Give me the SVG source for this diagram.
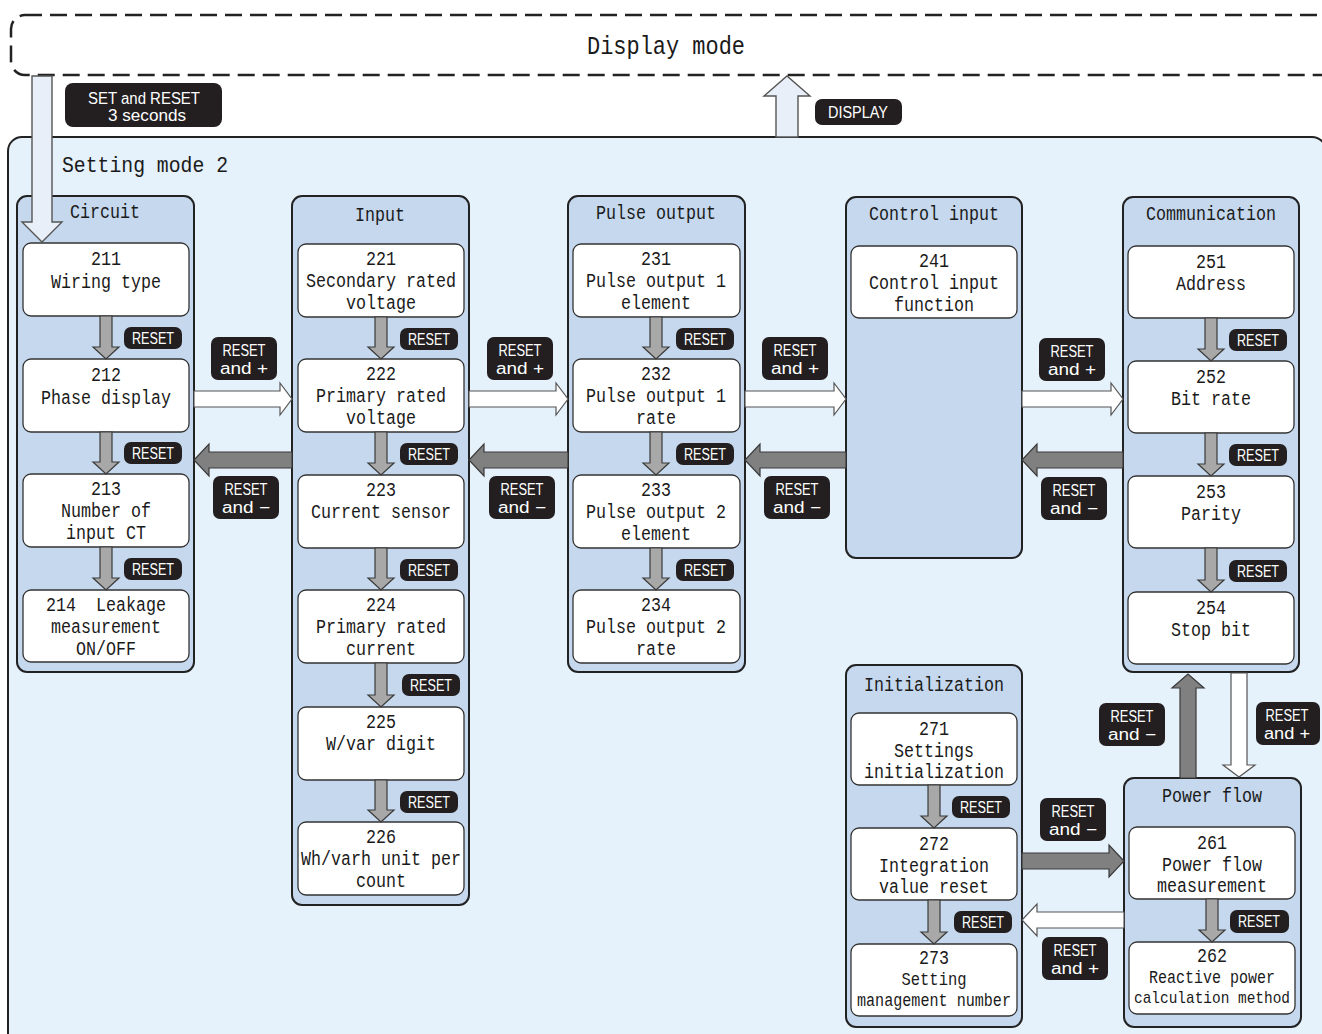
<svg xmlns="http://www.w3.org/2000/svg" width="1322" height="1034" viewBox="0 0 1322 1034">
  <defs>
    <style>
      .mode { fill: #ffffff; stroke: #222; stroke-width: 2.5; stroke-dasharray: 17 8; }
      .area { fill: #e5f1fb; stroke: #222; stroke-width: 2; }
      .grp { fill: #c5d8ed; stroke: #222; stroke-width: 2; }
      .node { fill: #ffffff; stroke: #333; stroke-width: 1.3; }
      .t { font-family: "Liberation Mono", "DejaVu Sans Mono", monospace; font-size: 20px; fill: #1a1a1a; text-anchor: middle; }
      .s { font-size: 18px; }
      .xs { font-size: 17px; }
      .big { font-family: "Liberation Mono", "DejaVu Sans Mono", monospace; fill: #1a1a1a; }
      .lbl { fill: #231f20; }
      .lt { font-family: "Liberation Sans", Arial, sans-serif; font-size: 16px; fill: #ffffff; text-anchor: middle; }
      .step { fill: #a8a8a8; stroke: #3a3a3a; stroke-width: 1.2; stroke-linejoin: miter; }
      .back { fill: #808080; stroke: #3a3a3a; stroke-width: 1.2; }
      .fwd { fill: #ffffff; stroke: #555; stroke-width: 1.2; }
      .entry { fill: #e8eff8; stroke: #555; stroke-width: 1.4; }
    </style>
  </defs>

  <!-- Display mode frame -->
  <g id="display-mode">
    <rect class="mode" x="11" y="15" width="1330" height="60" rx="14"/>
    <text class="big" x="666" y="54" font-size="26" text-anchor="middle" textLength="158" lengthAdjust="spacingAndGlyphs">Display mode</text>
  </g>

  <!-- Setting mode 2 frame -->
  <g id="setting-mode-2">
    <rect class="area" x="8" y="137" width="1318" height="940" rx="14"/>
    <text class="big" x="62" y="172" font-size="22" textLength="166" lengthAdjust="spacingAndGlyphs">Setting mode 2</text>
  </g>

  <!-- Circuit -->
  <g id="circuit">
    <rect class="grp" x="17" y="196" width="177" height="476" rx="10"/>
    <text class="t" x="105" y="218" textLength="70" lengthAdjust="spacingAndGlyphs">Circuit</text>
    <g id="n211">
      <rect class="node" x="23" y="243" width="166" height="73" rx="8"/>
      <text class="t" x="106" y="265" textLength="30" lengthAdjust="spacingAndGlyphs">211</text>
      <text class="t" x="106" y="288" textLength="110" lengthAdjust="spacingAndGlyphs">Wiring type</text>
    </g>
    <g id="n212">
      <rect class="node" x="23" y="359" width="166" height="73" rx="8"/>
      <text class="t" x="106" y="381" textLength="30" lengthAdjust="spacingAndGlyphs">212</text>
      <text class="t" x="106" y="404" textLength="130" lengthAdjust="spacingAndGlyphs">Phase display</text>
    </g>
    <g id="n213">
      <rect class="node" x="23" y="474" width="166" height="73" rx="8"/>
      <text class="t" x="106" y="495" textLength="30" lengthAdjust="spacingAndGlyphs">213</text>
      <text class="t" x="106" y="517" textLength="90" lengthAdjust="spacingAndGlyphs">Number of</text>
      <text class="t" x="106" y="539" textLength="80" lengthAdjust="spacingAndGlyphs">input CT</text>
    </g>
    <g id="n214">
      <rect class="node" x="23" y="590" width="166" height="72" rx="8"/>
      <text class="t" x="106" y="611" textLength="120" lengthAdjust="spacingAndGlyphs">214&#160; Leakage</text>
      <text class="t" x="106" y="633" textLength="110" lengthAdjust="spacingAndGlyphs">measurement</text>
      <text class="t" x="106" y="655" textLength="60" lengthAdjust="spacingAndGlyphs">ON/OFF</text>
    </g>
  </g>

  <!-- Input -->
  <g id="input">
    <rect class="grp" x="292" y="196" width="177" height="709" rx="10"/>
    <text class="t" x="380" y="221" textLength="50" lengthAdjust="spacingAndGlyphs">Input</text>
    <g id="n221">
      <rect class="node" x="298" y="244" width="166" height="73" rx="8"/>
      <text class="t" x="381" y="265" textLength="30" lengthAdjust="spacingAndGlyphs">221</text>
      <text class="t" x="381" y="287" textLength="150" lengthAdjust="spacingAndGlyphs">Secondary rated</text>
      <text class="t" x="381" y="309" textLength="70" lengthAdjust="spacingAndGlyphs">voltage</text>
    </g>
    <g id="n222">
      <rect class="node" x="298" y="359" width="166" height="73" rx="8"/>
      <text class="t" x="381" y="380" textLength="30" lengthAdjust="spacingAndGlyphs">222</text>
      <text class="t" x="381" y="402" textLength="130" lengthAdjust="spacingAndGlyphs">Primary rated</text>
      <text class="t" x="381" y="424" textLength="70" lengthAdjust="spacingAndGlyphs">voltage</text>
    </g>
    <g id="n223">
      <rect class="node" x="298" y="475" width="166" height="73" rx="8"/>
      <text class="t" x="381" y="496" textLength="30" lengthAdjust="spacingAndGlyphs">223</text>
      <text class="t" x="381" y="518" textLength="140" lengthAdjust="spacingAndGlyphs">Current sensor</text>
    </g>
    <g id="n224">
      <rect class="node" x="298" y="590" width="166" height="73" rx="8"/>
      <text class="t" x="381" y="611" textLength="30" lengthAdjust="spacingAndGlyphs">224</text>
      <text class="t" x="381" y="633" textLength="130" lengthAdjust="spacingAndGlyphs">Primary rated</text>
      <text class="t" x="381" y="655" textLength="70" lengthAdjust="spacingAndGlyphs">current</text>
    </g>
    <g id="n225">
      <rect class="node" x="298" y="707" width="166" height="73" rx="8"/>
      <text class="t" x="381" y="728" textLength="30" lengthAdjust="spacingAndGlyphs">225</text>
      <text class="t" x="381" y="750" textLength="110" lengthAdjust="spacingAndGlyphs">W/var digit</text>
    </g>
    <g id="n226">
      <rect class="node" x="298" y="822" width="166" height="73" rx="8"/>
      <text class="t" x="381" y="843" textLength="30" lengthAdjust="spacingAndGlyphs">226</text>
      <text class="t" x="381" y="865" textLength="160" lengthAdjust="spacingAndGlyphs">Wh/varh unit per</text>
      <text class="t" x="381" y="887" textLength="50" lengthAdjust="spacingAndGlyphs">count</text>
    </g>
  </g>

  <!-- Pulse output -->
  <g id="pulse-output">
    <rect class="grp" x="568" y="196" width="177" height="476" rx="10"/>
    <text class="t" x="656" y="219" textLength="120" lengthAdjust="spacingAndGlyphs">Pulse output</text>
    <g id="n231">
      <rect class="node" x="573" y="244" width="167" height="73" rx="8"/>
      <text class="t" x="656" y="265" textLength="30" lengthAdjust="spacingAndGlyphs">231</text>
      <text class="t" x="656" y="287" textLength="140" lengthAdjust="spacingAndGlyphs">Pulse output 1</text>
      <text class="t" x="656" y="309" textLength="70" lengthAdjust="spacingAndGlyphs">element</text>
    </g>
    <g id="n232">
      <rect class="node" x="573" y="359" width="167" height="73" rx="8"/>
      <text class="t" x="656" y="380" textLength="30" lengthAdjust="spacingAndGlyphs">232</text>
      <text class="t" x="656" y="402" textLength="140" lengthAdjust="spacingAndGlyphs">Pulse output 1</text>
      <text class="t" x="656" y="424" textLength="40" lengthAdjust="spacingAndGlyphs">rate</text>
    </g>
    <g id="n233">
      <rect class="node" x="573" y="475" width="167" height="73" rx="8"/>
      <text class="t" x="656" y="496" textLength="30" lengthAdjust="spacingAndGlyphs">233</text>
      <text class="t" x="656" y="518" textLength="140" lengthAdjust="spacingAndGlyphs">Pulse output 2</text>
      <text class="t" x="656" y="540" textLength="70" lengthAdjust="spacingAndGlyphs">element</text>
    </g>
    <g id="n234">
      <rect class="node" x="573" y="590" width="167" height="73" rx="8"/>
      <text class="t" x="656" y="611" textLength="30" lengthAdjust="spacingAndGlyphs">234</text>
      <text class="t" x="656" y="633" textLength="140" lengthAdjust="spacingAndGlyphs">Pulse output 2</text>
      <text class="t" x="656" y="655" textLength="40" lengthAdjust="spacingAndGlyphs">rate</text>
    </g>
  </g>

  <!-- Control input -->
  <g id="control-input">
    <rect class="grp" x="846" y="197" width="176" height="361" rx="10"/>
    <text class="t" x="934" y="220" textLength="130" lengthAdjust="spacingAndGlyphs">Control input</text>
    <g id="n241">
      <rect class="node" x="851" y="246" width="166" height="72" rx="8"/>
      <text class="t" x="934" y="267" textLength="30" lengthAdjust="spacingAndGlyphs">241</text>
      <text class="t" x="934" y="289" textLength="130" lengthAdjust="spacingAndGlyphs">Control input</text>
      <text class="t" x="934" y="311" textLength="80" lengthAdjust="spacingAndGlyphs">function</text>
    </g>
  </g>

  <!-- Communication -->
  <g id="communication">
    <rect class="grp" x="1123" y="197" width="176" height="475" rx="10"/>
    <text class="t" x="1211" y="220" textLength="130" lengthAdjust="spacingAndGlyphs">Communication</text>
    <g id="n251">
      <rect class="node" x="1128" y="246" width="166" height="72" rx="8"/>
      <text class="t" x="1211" y="268" textLength="30" lengthAdjust="spacingAndGlyphs">251</text>
      <text class="t" x="1211" y="290" textLength="70" lengthAdjust="spacingAndGlyphs">Address</text>
    </g>
    <g id="n252">
      <rect class="node" x="1128" y="361" width="166" height="72" rx="8"/>
      <text class="t" x="1211" y="383" textLength="30" lengthAdjust="spacingAndGlyphs">252</text>
      <text class="t" x="1211" y="405" textLength="80" lengthAdjust="spacingAndGlyphs">Bit rate</text>
    </g>
    <g id="n253">
      <rect class="node" x="1128" y="476" width="166" height="72" rx="8"/>
      <text class="t" x="1211" y="498" textLength="30" lengthAdjust="spacingAndGlyphs">253</text>
      <text class="t" x="1211" y="520" textLength="60" lengthAdjust="spacingAndGlyphs">Parity</text>
    </g>
    <g id="n254">
      <rect class="node" x="1128" y="592" width="166" height="72" rx="8"/>
      <text class="t" x="1211" y="614" textLength="30" lengthAdjust="spacingAndGlyphs">254</text>
      <text class="t" x="1211" y="636" textLength="80" lengthAdjust="spacingAndGlyphs">Stop bit</text>
    </g>
  </g>

  <!-- Initialization -->
  <g id="initialization">
    <rect class="grp" x="846" y="665" width="176" height="362" rx="10"/>
    <text class="t" x="934" y="691" textLength="140" lengthAdjust="spacingAndGlyphs">Initialization</text>
    <g id="n271">
      <rect class="node" x="851" y="713" width="166" height="72" rx="8"/>
      <text class="t" x="934" y="735" textLength="30" lengthAdjust="spacingAndGlyphs">271</text>
      <text class="t" x="934" y="757" textLength="80" lengthAdjust="spacingAndGlyphs">Settings</text>
      <text class="t" x="934" y="778" textLength="140" lengthAdjust="spacingAndGlyphs">initialization</text>
    </g>
    <g id="n272">
      <rect class="node" x="851" y="828" width="166" height="72" rx="8"/>
      <text class="t" x="934" y="850" textLength="30" lengthAdjust="spacingAndGlyphs">272</text>
      <text class="t" x="934" y="872" textLength="110" lengthAdjust="spacingAndGlyphs">Integration</text>
      <text class="t" x="934" y="893" textLength="110" lengthAdjust="spacingAndGlyphs">value reset</text>
    </g>
    <g id="n273">
      <rect class="node" x="851" y="944" width="166" height="72" rx="8"/>
      <text class="t" x="934" y="964" textLength="30" lengthAdjust="spacingAndGlyphs">273</text>
      <text class="t s" x="934" y="985" textLength="65" lengthAdjust="spacingAndGlyphs">Setting</text>
      <text class="t s" x="934" y="1006" textLength="154" lengthAdjust="spacingAndGlyphs">management number</text>
    </g>
  </g>

  <!-- Power flow -->
  <g id="power-flow">
    <rect class="grp" x="1124" y="778" width="177" height="249" rx="10"/>
    <text class="t" x="1212" y="802" textLength="100" lengthAdjust="spacingAndGlyphs">Power flow</text>
    <g id="n261">
      <rect class="node" x="1129" y="827" width="166" height="72" rx="8"/>
      <text class="t" x="1212" y="849" textLength="30" lengthAdjust="spacingAndGlyphs">261</text>
      <text class="t" x="1212" y="871" textLength="100" lengthAdjust="spacingAndGlyphs">Power flow</text>
      <text class="t" x="1212" y="892" textLength="110" lengthAdjust="spacingAndGlyphs">measurement</text>
    </g>
    <g id="n262">
      <rect class="node" x="1129" y="942" width="166" height="72" rx="8"/>
      <text class="t" x="1212" y="962" textLength="30" lengthAdjust="spacingAndGlyphs">262</text>
      <text class="t s" x="1212" y="983" textLength="126" lengthAdjust="spacingAndGlyphs">Reactive power</text>
      <text class="t xs" x="1212" y="1003" textLength="156" lengthAdjust="spacingAndGlyphs">calculation method</text>
    </g>
  </g>

  <!-- Connectors -->
  <g id="connectors">
    <!-- entry from Display mode / return to Display mode -->
    <polygon class="entry" points="32,76 52,76 52,222 62,222 42,242 22,222 32,222"/>
    <polygon class="entry" points="776,137 776,96 764,96 787,76 810,96 798,96 798,137"/>

    <!-- Circuit steps -->
    <polygon class="step" points="100,316 112,316 112,347 119,347 106,359 93,347 100,347"/>
    <polygon class="step" points="100,432 112,432 112,462 119,462 106,474 93,462 100,462"/>
    <polygon class="step" points="100,547 112,547 112,578 119,578 106,590 93,578 100,578"/>
    <!-- Input steps -->
    <polygon class="step" points="375,317 387,317 387,347 394,347 381,359 368,347 375,347"/>
    <polygon class="step" points="375,432 387,432 387,463 394,463 381,475 368,463 375,463"/>
    <polygon class="step" points="375,548 387,548 387,578 394,578 381,590 368,578 375,578"/>
    <polygon class="step" points="375,663 387,663 387,695 394,695 381,707 368,695 375,695"/>
    <polygon class="step" points="375,780 387,780 387,810 394,810 381,822 368,810 375,810"/>
    <!-- Pulse output steps -->
    <polygon class="step" points="650,317 662,317 662,347 669,347 656,359 643,347 650,347"/>
    <polygon class="step" points="650,432 662,432 662,463 669,463 656,475 643,463 650,463"/>
    <polygon class="step" points="650,548 662,548 662,578 669,578 656,590 643,578 650,578"/>
    <!-- Communication steps -->
    <polygon class="step" points="1205,318 1217,318 1217,349 1224,349 1211,361 1198,349 1205,349"/>
    <polygon class="step" points="1205,433 1217,433 1217,464 1224,464 1211,476 1198,464 1205,464"/>
    <polygon class="step" points="1205,548 1217,548 1217,580 1224,580 1211,592 1198,580 1205,580"/>
    <!-- Initialization steps -->
    <polygon class="step" points="928,785 940,785 940,816 947,816 934,828 921,816 928,816"/>
    <polygon class="step" points="928,900 940,900 940,932 947,932 934,944 921,932 928,932"/>
    <!-- Power flow step -->
    <polygon class="step" points="1206,899 1218,899 1218,930 1225,930 1212,942 1199,930 1206,930"/>

    <!-- forward between groups (RESET and +) -->
    <polygon class="fwd" points="194,391 280,391 280,383 292,399 280,415 280,407 194,407"/>
    <polygon class="fwd" points="469,391 556,391 556,383 568,399 556,415 556,407 469,407"/>
    <polygon class="fwd" points="745,391 834,391 834,383 846,399 834,415 834,407 745,407"/>
    <polygon class="fwd" points="1022,391 1111,391 1111,383 1123,399 1111,415 1111,407 1022,407"/>
    <!-- backward between groups (RESET and −) -->
    <polygon class="back" points="292,452 209,452 209,444 194,460 209,476 209,468 292,468"/>
    <polygon class="back" points="568,452 484,452 484,444 469,460 484,476 484,468 568,468"/>
    <polygon class="back" points="846,452 760,452 760,444 745,460 760,476 760,468 846,468"/>
    <polygon class="back" points="1123,452 1037,452 1037,444 1022,460 1037,476 1037,468 1123,468"/>

    <!-- Communication <-> Power flow -->
    <polygon class="back" points="1180,778 1180,688 1172,688 1188,674 1204,688 1196,688 1196,778"/>
    <polygon class="fwd" points="1231,673 1231,765 1223,765 1239,777 1255,765 1247,765 1247,673"/>
    <!-- Initialization <-> Power flow -->
    <polygon class="back" points="1022,853 1109,853 1109,845 1124,861 1109,877 1109,869 1022,869"/>
    <polygon class="fwd" points="1124,912 1037,912 1037,904 1022,920 1037,936 1037,928 1124,928"/>
  </g>

  <!-- Key labels -->
  <g id="key-labels">
    <rect class="lbl" x="65" y="83" width="157" height="44" rx="8"/>
    <text class="lt" x="144" y="104" textLength="112" lengthAdjust="spacingAndGlyphs">SET and RESET</text>
    <text class="lt" x="147" y="121" textLength="78" lengthAdjust="spacingAndGlyphs">3 seconds</text>

    <rect class="lbl" x="815" y="99" width="87" height="26" rx="7"/>
    <text class="lt" x="858" y="118" textLength="60" lengthAdjust="spacingAndGlyphs">DISPLAY</text>

    <!-- RESET within groups -->
    <g id="reset-steps">
      <rect class="lbl" x="124" y="327" width="58" height="22" rx="7"/><text class="lt" x="153" y="344" textLength="42" lengthAdjust="spacingAndGlyphs">RESET</text>
      <rect class="lbl" x="124" y="442" width="58" height="22" rx="7"/><text class="lt" x="153" y="459" textLength="42" lengthAdjust="spacingAndGlyphs">RESET</text>
      <rect class="lbl" x="124" y="558" width="58" height="22" rx="7"/><text class="lt" x="153" y="575" textLength="42" lengthAdjust="spacingAndGlyphs">RESET</text>

      <rect class="lbl" x="400" y="328" width="58" height="22" rx="7"/><text class="lt" x="429" y="345" textLength="42" lengthAdjust="spacingAndGlyphs">RESET</text>
      <rect class="lbl" x="400" y="443" width="58" height="22" rx="7"/><text class="lt" x="429" y="460" textLength="42" lengthAdjust="spacingAndGlyphs">RESET</text>
      <rect class="lbl" x="400" y="559" width="58" height="22" rx="7"/><text class="lt" x="429" y="576" textLength="42" lengthAdjust="spacingAndGlyphs">RESET</text>
      <rect class="lbl" x="402" y="674" width="58" height="22" rx="7"/><text class="lt" x="431" y="691" textLength="42" lengthAdjust="spacingAndGlyphs">RESET</text>
      <rect class="lbl" x="400" y="791" width="58" height="22" rx="7"/><text class="lt" x="429" y="808" textLength="42" lengthAdjust="spacingAndGlyphs">RESET</text>

      <rect class="lbl" x="676" y="328" width="58" height="22" rx="7"/><text class="lt" x="705" y="345" textLength="42" lengthAdjust="spacingAndGlyphs">RESET</text>
      <rect class="lbl" x="676" y="443" width="58" height="22" rx="7"/><text class="lt" x="705" y="460" textLength="42" lengthAdjust="spacingAndGlyphs">RESET</text>
      <rect class="lbl" x="676" y="559" width="58" height="22" rx="7"/><text class="lt" x="705" y="576" textLength="42" lengthAdjust="spacingAndGlyphs">RESET</text>

      <rect class="lbl" x="1229" y="329" width="58" height="22" rx="7"/><text class="lt" x="1258" y="346" textLength="42" lengthAdjust="spacingAndGlyphs">RESET</text>
      <rect class="lbl" x="1229" y="444" width="58" height="22" rx="7"/><text class="lt" x="1258" y="461" textLength="42" lengthAdjust="spacingAndGlyphs">RESET</text>
      <rect class="lbl" x="1229" y="560" width="58" height="22" rx="7"/><text class="lt" x="1258" y="577" textLength="42" lengthAdjust="spacingAndGlyphs">RESET</text>

      <rect class="lbl" x="952" y="796" width="58" height="22" rx="7"/><text class="lt" x="981" y="813" textLength="42" lengthAdjust="spacingAndGlyphs">RESET</text>
      <rect class="lbl" x="954" y="911" width="58" height="22" rx="7"/><text class="lt" x="983" y="928" textLength="42" lengthAdjust="spacingAndGlyphs">RESET</text>

      <rect class="lbl" x="1230" y="910" width="59" height="23" rx="7"/><text class="lt" x="1259" y="927" textLength="42" lengthAdjust="spacingAndGlyphs">RESET</text>
    </g>

    <!-- RESET and + -->
    <g id="reset-plus">
      <rect class="lbl" x="211" y="337" width="66" height="43" rx="7"/>
      <text class="lt" x="244" y="356" textLength="43" lengthAdjust="spacingAndGlyphs">RESET</text>
      <text class="lt" x="244" y="374" textLength="48" lengthAdjust="spacingAndGlyphs">and +</text>

      <rect class="lbl" x="487" y="337" width="66" height="43" rx="7"/>
      <text class="lt" x="520" y="356" textLength="43" lengthAdjust="spacingAndGlyphs">RESET</text>
      <text class="lt" x="520" y="374" textLength="48" lengthAdjust="spacingAndGlyphs">and +</text>

      <rect class="lbl" x="762" y="337" width="66" height="43" rx="7"/>
      <text class="lt" x="795" y="356" textLength="43" lengthAdjust="spacingAndGlyphs">RESET</text>
      <text class="lt" x="795" y="374" textLength="48" lengthAdjust="spacingAndGlyphs">and +</text>

      <rect class="lbl" x="1039" y="338" width="66" height="43" rx="7"/>
      <text class="lt" x="1072" y="357" textLength="43" lengthAdjust="spacingAndGlyphs">RESET</text>
      <text class="lt" x="1072" y="375" textLength="48" lengthAdjust="spacingAndGlyphs">and +</text>

      <rect class="lbl" x="1042" y="937" width="66" height="43" rx="7"/>
      <text class="lt" x="1075" y="956" textLength="43" lengthAdjust="spacingAndGlyphs">RESET</text>
      <text class="lt" x="1075" y="974" textLength="48" lengthAdjust="spacingAndGlyphs">and +</text>

      <rect class="lbl" x="1256" y="702" width="64" height="43" rx="7"/>
      <text class="lt" x="1287" y="721" textLength="43" lengthAdjust="spacingAndGlyphs">RESET</text>
      <text class="lt" x="1287" y="739" textLength="46" lengthAdjust="spacingAndGlyphs">and +</text>
    </g>

    <!-- RESET and − -->
    <g id="reset-minus">
      <rect class="lbl" x="213" y="476" width="66" height="43" rx="7"/>
      <text class="lt" x="246" y="495" textLength="43" lengthAdjust="spacingAndGlyphs">RESET</text>
      <text class="lt" x="246" y="513" textLength="48" lengthAdjust="spacingAndGlyphs">and −</text>

      <rect class="lbl" x="489" y="476" width="66" height="43" rx="7"/>
      <text class="lt" x="522" y="495" textLength="43" lengthAdjust="spacingAndGlyphs">RESET</text>
      <text class="lt" x="522" y="513" textLength="48" lengthAdjust="spacingAndGlyphs">and −</text>

      <rect class="lbl" x="764" y="476" width="66" height="43" rx="7"/>
      <text class="lt" x="797" y="495" textLength="43" lengthAdjust="spacingAndGlyphs">RESET</text>
      <text class="lt" x="797" y="513" textLength="48" lengthAdjust="spacingAndGlyphs">and −</text>

      <rect class="lbl" x="1041" y="477" width="66" height="43" rx="7"/>
      <text class="lt" x="1074" y="496" textLength="43" lengthAdjust="spacingAndGlyphs">RESET</text>
      <text class="lt" x="1074" y="514" textLength="48" lengthAdjust="spacingAndGlyphs">and −</text>

      <rect class="lbl" x="1040" y="798" width="66" height="43" rx="7"/>
      <text class="lt" x="1073" y="817" textLength="43" lengthAdjust="spacingAndGlyphs">RESET</text>
      <text class="lt" x="1073" y="835" textLength="48" lengthAdjust="spacingAndGlyphs">and −</text>

      <rect class="lbl" x="1099" y="703" width="66" height="43" rx="7"/>
      <text class="lt" x="1132" y="722" textLength="43" lengthAdjust="spacingAndGlyphs">RESET</text>
      <text class="lt" x="1132" y="740" textLength="48" lengthAdjust="spacingAndGlyphs">and −</text>
    </g>
  </g>
</svg>
